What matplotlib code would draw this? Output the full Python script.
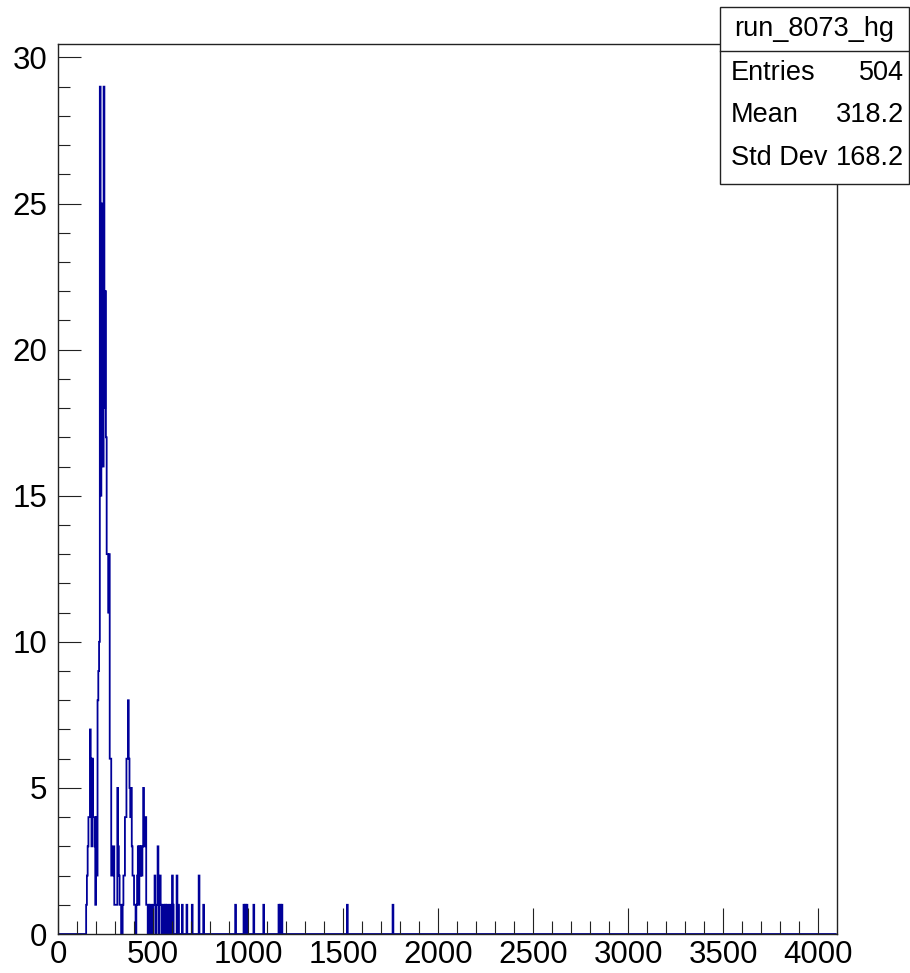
import numpy as np
import matplotlib.pyplot as plt
from matplotlib.patches import Rectangle
from matplotlib.lines import Line2D

plt.rcParams['font.family'] = ['Liberation Sans', 'DejaVu Sans']

# high gain ADC spectrum, 1024 bins of width 4 over 0..4096
n_bins = 1024
adc_max = 4096

# contiguous part of the spectrum, first bin starts at ADC 148
core_start = 148
core_counts = [1, 2, 3, 4, 4,
               7, 6, 3, 6, 4,
               4, 3, 1, 4, 2,
               8, 9, 10,
               29, 15, 25, 18, 16,
               29, 18, 22, 17, 13,
               13, 11, 13, 6, 6,
               2, 2, 3, 3, 1,
               1, 1, 1, 5, 3,
               2, 1, 1, 0, 0,
               1, 2, 2, 4, 4,
               6, 6, 8, 6, 5,
               4, 5, 3, 2, 2,
               1, 1, 0, 1, 2,
               3, 1, 3, 2, 3,
               2, 3, 5, 3, 4,
               4, 1, 1, 0, 1]

# sparse tail (ADC value of bin, entries)
tail_adc = [484, 488, 500, 504, 508, 516, 520, 524, 532, 536, 540, 552, 556,
            564, 572, 576, 588, 600, 604, 624, 632, 652, 676, 704, 740, 764,
            932, 976, 984, 992, 1028, 1080, 1160, 1168, 1176, 1520, 1760]
tail_counts = [1, 1, 1, 1, 2, 1, 1, 3, 2, 2, 1, 1, 1,
               1, 1, 1, 1, 2, 1, 2, 1, 1, 1, 1, 2, 1,
               1, 1, 1, 1, 1, 1, 1, 1, 1, 1, 1]

hist_name = "run_8073_hg"
stat_names = ["Entries", "Mean", "Std Dev"]
stat_values = ["504", "318.2", "168.2"]

bw = adc_max / n_bins
edges = np.arange(n_bins + 1) * bw
counts = np.zeros(n_bins)
i0 = int(core_start / bw)
counts[i0:i0 + len(core_counts)] = core_counts
for a, c in zip(tail_adc, tail_counts):
    counts[int(a / bw)] += c

W, H = 910, 973
fig = plt.figure(figsize=(W / 100, H / 100), dpi=100)

# frame in pixels: left 58, right 836.7, top 44.3, bottom 934
ax = fig.add_axes([58 / W, 1 - 934 / H, (836.7 - 58) / W, (934 - 44.3) / H])
ax.stairs(counts, edges, color='#000099', linewidth=1.3)

ax.set_xlim(0, adc_max)
ax.set_ylim(0, counts.max() * 1.05)
ax.set_xticks(np.arange(0, 4001, 500))
ax.set_xticks(np.arange(0, 4096, 100), minor=True)
ax.set_yticks(np.arange(0, 31, 5))
ax.set_yticks(np.arange(0, 31, 1), minor=True)

ax.tick_params(axis='both', which='both', direction='in', top=False, right=False,
               width=0.8, color='#222222', labelsize=22.5)
ax.tick_params(axis='x', which='major', length=18.5, pad=4)
ax.tick_params(axis='x', which='minor', length=9.3)
ax.tick_params(axis='y', which='major', length=16.3, pad=7.5)
ax.tick_params(axis='y', which='minor', length=8.4)
for s in ax.spines.values():
    s.set_linewidth(1.0)
    s.set_color('#222222')

# stats box, drawn over the frame corner
def fx(px):
    return px / W

def fy(py):
    return 1 - py / H

bx0, bx1, by0, by1, bsep = 720, 909, 6.7, 184, 51
fig.add_artist(Rectangle((fx(bx0), fy(by1)), fx(bx1) - fx(bx0), fy(by0) - fy(by1),
                         transform=fig.transFigure, facecolor='white',
                         edgecolor='#222222', linewidth=1.0, zorder=5))
fig.add_artist(Line2D([fx(bx0), fx(bx1)], [fy(bsep), fy(bsep)],
                      transform=fig.transFigure, color='#222222', linewidth=1.0, zorder=6))
fig.text(fx((bx0 + bx1) / 2), fy(29), hist_name, ha='center', va='center',
         fontsize=19.5, zorder=7)
for k, (name, val) in enumerate(zip(stat_names, stat_values)):
    yy = fy(73 + 42.5 * k)
    fig.text(fx(730.7), yy, name, ha='left', va='center', fontsize=19.5, zorder=7)
    fig.text(fx(904), yy, val, ha='right', va='center', fontsize=19.5, zorder=7)

fig.savefig('out.png', dpi=100)
